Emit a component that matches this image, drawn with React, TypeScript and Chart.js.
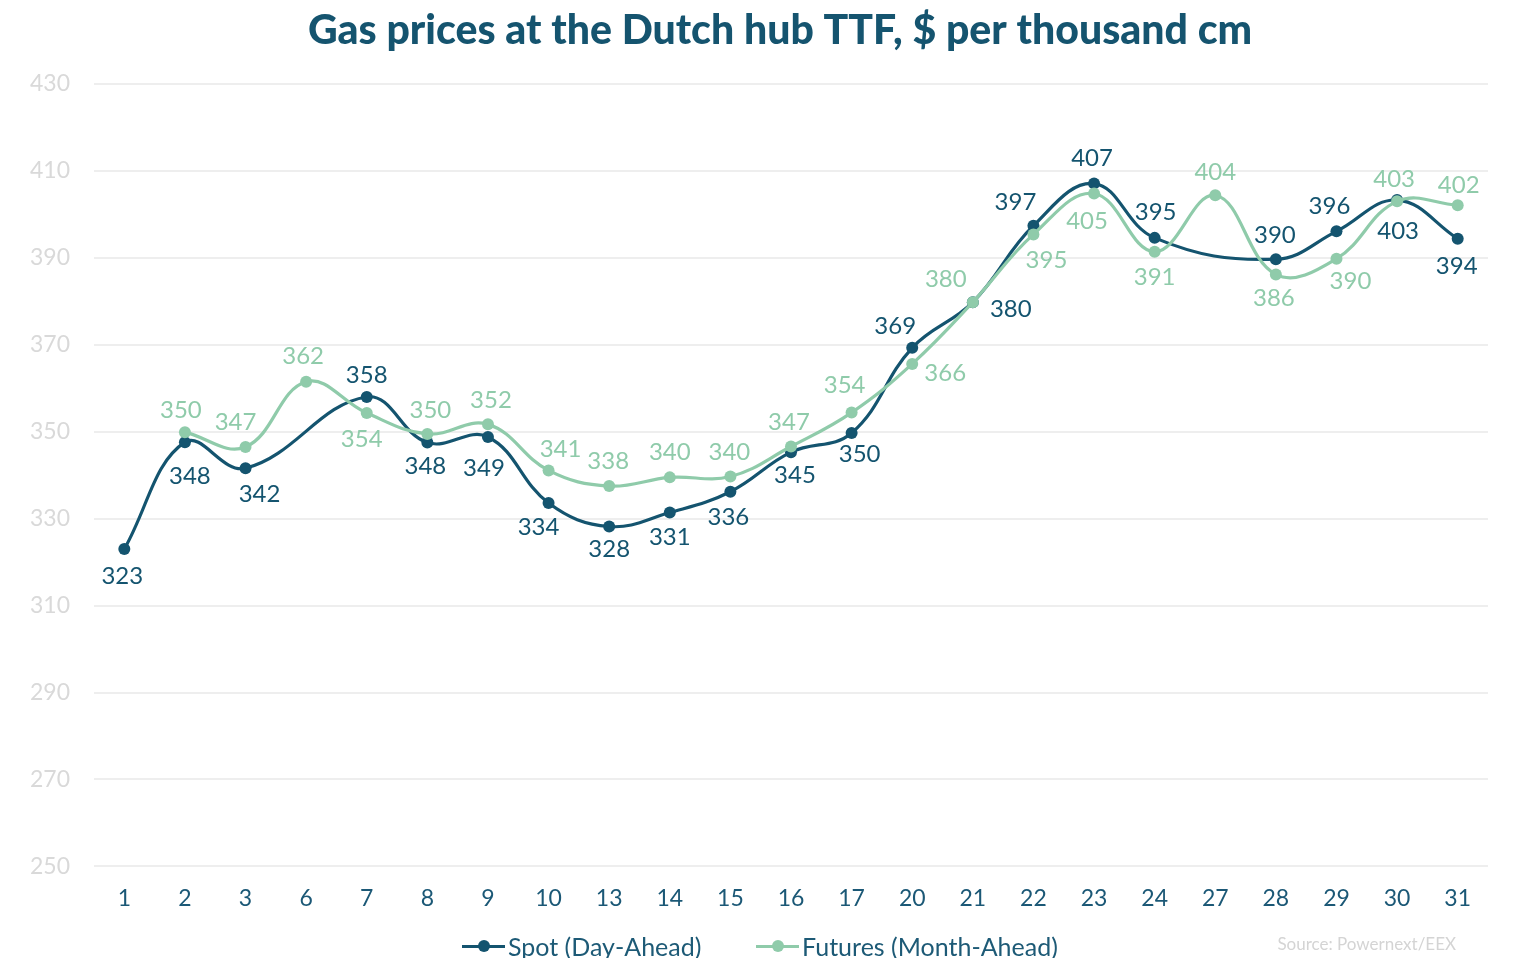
import React, { useEffect, useRef } from "react";
import { Chart, registerables } from "chart.js";

Chart.register(...registerables);

const TITLE = "Gas prices at the Dutch hub TTF, $ per thousand cm";
const SOURCE = "Source: Powernext/EEX";

const days = ["1", "2", "3", "6", "7", "8", "9", "10", "13", "14", "15", "16", "17", "20", "21", "22", "23", "24", "27", "28", "29", "30", "31"];

const spotLabel = "Spot (Day-Ahead)";
const spot: (number | null)[] = [323.0, 347.6, 341.6, null, 358.0, 347.5, 348.8, 333.6, 328.2, 331.4, 336.2, 345.3, 349.7, 369.3, 379.8, 397.4, 407.1, 394.6, null, 389.7, 396.1, 403.3, 394.4];

const futuresLabel = "Futures (Month-Ahead)";
const futures: (number | null)[] = [null, 349.9, 346.5, 361.5, 354.3, 349.5, 351.7, 341.1, 337.5, 339.5, 339.7, 346.6, 354.4, 365.6, 379.8, 395.4, 404.8, 391.4, 404.4, 386.2, 389.8, 403.0, 402.1];

const yTicks = { min: 250, max: 430, step: 20 };

// label offsets [dx, dy] relative to each point (styling, not data)
const spotLabelOffsets: ([number, number] | null)[] = [
  [-2, 27], [5, 34], [14, 26], null, [0, -22], [-2, 24], [-4, 31], [-10, 24], [0, 23], [0, 25], [-2, 26], [4, 23], [8, 21],
  [-17, -22], [38, 7], [-18, -23], [-2, -25], [1, -26], null, [-1, -24], [-7, -25], [1, 31], [-1, 28],
];
const futuresLabelOffsets: ([number, number] | null)[] = [
  null, [-4, -22], [-10, -25], [-3, -25], [-5, 26], [3, -24], [3, -24], [12, -21], [-1, -25], [0, -25], [-1, -24], [-2, -24], [-7, -27],
  [33, 9], [-27, -23], [13, 26], [-7, 28], [0, 25], [0, -23], [-2, 24], [14, 23], [-3, -22], [1, -20],
];

const SPOT_COLOR = "#14546f";
const FUT_COLOR = "#8fcbaa";
const FONT = "Lato, 'Open Sans', sans-serif";

const labelsPlugin = {
  id: "pointLabels",
  afterDatasetsDraw(chart: any) {
    const ctx = chart.ctx;
    ctx.save();
    ctx.font = `24px ${FONT}`;
    ctx.textAlign = "center";
    ctx.textBaseline = "middle";
    chart.data.datasets.forEach((ds: any, i: number) => {
      const meta = chart.getDatasetMeta(i);
      const offs = ds._labelOffsets as ([number, number] | null)[];
      meta.data.forEach((pt: any, j: number) => {
        const v = ds.data[j];
        if (v == null || !offs[j]) return;
        const [dx, dy] = offs[j] as [number, number];
        ctx.fillStyle = ds.borderColor;
        ctx.fillText(String(Math.round(v)), pt.x + dx, pt.y + dy);
      });
    });
    ctx.restore();
  },
};

const titlePlugin = {
  id: "customTitle",
  beforeDraw(chart: any) {
    const ctx = chart.ctx;
    ctx.save();
    ctx.font = `900 41px ${FONT}`;
    ctx.fillStyle = "#15546f";
    ctx.textAlign = "center";
    ctx.textBaseline = "middle";
    ctx.fillText(TITLE, 772, 23);
    ctx.restore();
  },
};

function LegendItem({ color, text, left }: { color: string; text: string; left: number }) {
  return (
    <div style={{ position: "absolute", left, top: 924, height: 28, display: "flex", alignItems: "center" }}>
      <div style={{ position: "relative", width: 43, height: 28, marginRight: 3 }}>
        <div style={{ position: "absolute", left: 0, right: 0, top: 12.5, height: 3, background: color }} />
        <div style={{ position: "absolute", left: 15.5, top: 8, width: 12, height: 12, borderRadius: 6, background: color }} />
      </div>
      <span style={{ fontFamily: FONT, fontSize: 25, color: "#1d5a76", whiteSpace: "nowrap" }}>{text}</span>
    </div>
  );
}

export default function App() {
  const ref = useRef<HTMLCanvasElement | null>(null);
  useEffect(() => {
    if (!ref.current) return;
    const chart = new Chart(ref.current, {
      type: "line",
      data: {
        labels: days,
        datasets: [
          {
            label: spotLabel,
            data: spot,
            borderColor: SPOT_COLOR,
            backgroundColor: SPOT_COLOR,
            pointBackgroundColor: SPOT_COLOR,
            borderWidth: 3.2,
            pointRadius: 6,
            pointBorderWidth: 0,
            tension: 0.4,
            spanGaps: true,
            order: 1,
            _labelOffsets: spotLabelOffsets,
          } as any,
          {
            label: futuresLabel,
            data: futures,
            borderColor: FUT_COLOR,
            backgroundColor: FUT_COLOR,
            pointBackgroundColor: FUT_COLOR,
            borderWidth: 3.2,
            pointRadius: 6,
            pointBorderWidth: 0,
            tension: 0.4,
            spanGaps: true,
            order: 0,
            _labelOffsets: futuresLabelOffsets,
          } as any,
        ],
      },
      options: {
        animation: false,
        responsive: true,
        maintainAspectRatio: false,
        layout: { padding: { top: 76, right: 17, bottom: 28, left: 0 } },
        plugins: { legend: { display: false }, tooltip: { enabled: false }, title: { display: false } },
        scales: {
          x: {
            offset: true,
            grid: { display: false, drawTicks: false },
            border: { display: false },
            ticks: { color: "#1b5876", font: { family: FONT, size: 23 }, padding: 18, maxRotation: 0, autoSkip: false },
          },
          y: {
            min: yTicks.min,
            max: yTicks.max,
            grid: { color: "#eeeeee", lineWidth: 2, drawTicks: false },
            border: { display: false },
            ticks: { stepSize: yTicks.step, color: "#d9d9d9", font: { family: FONT, size: 23 }, padding: 24 },
            afterFit: (s: any) => { s.width = 86; },
          },
        },
      },
      plugins: [labelsPlugin, titlePlugin],
    });
    return () => chart.destroy();
  }, []);

  return (
    <div style={{ position: "relative", width: 1497, height: 950 }}>
      <canvas ref={ref} />
      <LegendItem color={SPOT_COLOR} text={spotLabel} left={454} />
      <LegendItem color={FUT_COLOR} text={futuresLabel} left={748} />
      <div style={{ position: "absolute", right: 49, top: 926, fontFamily: FONT, fontSize: 17, color: "#d4d4d4", lineHeight: "20px" }}>{SOURCE}</div>
    </div>
  );
}
